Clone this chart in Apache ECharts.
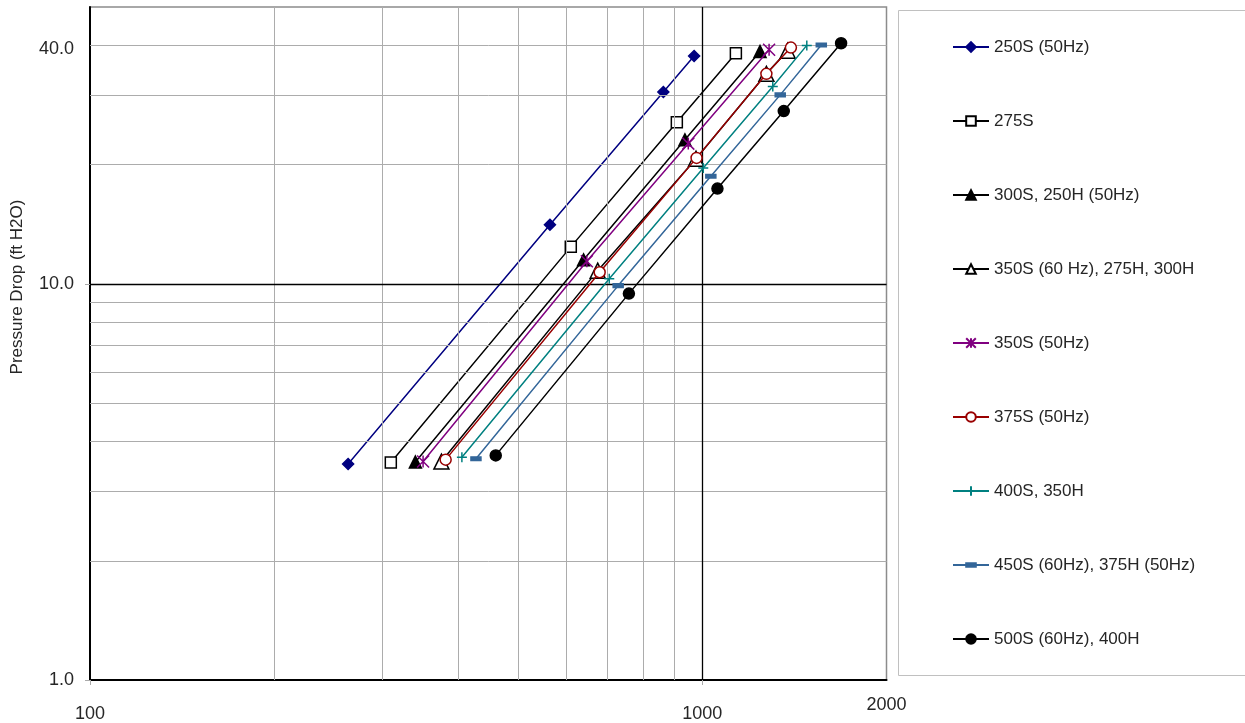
<!DOCTYPE html>
<html>
<head>
<meta charset="utf-8">
<script src="https://cdn.jsdelivr.net/npm/echarts@6/dist/echarts.min.js"></script>
<style>
html,body{margin:0;padding:0;background:#fff;}
#chart{width:1245px;height:723px;}
</style>
</head>
<body>
<div id="chart"></div>
<script>
// ---- data (flow gpm vs pressure drop ft H2O) ----
var seriesNames = [
  '250S (50Hz)',
  '275S',
  '300S, 250H (50Hz)',
  '350S (60 Hz), 275H, 300H',
  '350S (50Hz)',
  '375S (50Hz)',
  '400S, 350H',
  '450S (60Hz), 375H (50Hz)',
  '500S (60Hz), 400H'
];
var flow250S   = [264, 564, 864, 970];
var drop250S   = [3.51, 14.1, 30.5, 37.6];
var flow275S   = [310, 610, 909, 1135];
var drop275S   = [3.54, 12.4, 25.6, 38.2];
var flow300S   = [340, 640, 937, 1243];
var drop300S   = [3.55, 11.5, 23.1, 38.6];
var flow350S60 = [375, 675, 977, 1273, 1379];
var drop350S60 = [3.56, 10.8, 20.7, 33.9, 38.8];
var flow350S50 = [350, 648, 949, 1286];
var drop350S50 = [3.56, 11.4, 22.6, 39.0];
var flow375S   = [381, 680, 979, 1273, 1396];
var drop375S   = [3.60, 10.7, 20.8, 33.9, 39.5];
var flow400S   = [405, 705, 1004, 1304, 1482];
var drop400S   = [3.65, 10.3, 19.6, 31.5, 40.0];
var flow450S   = [427, 729, 1033, 1341, 1565];
var drop450S   = [3.62, 9.9, 18.7, 30.0, 40.1];
var flow500S   = [460, 759, 1059, 1359, 1686];
var drop500S   = [3.69, 9.45, 17.4, 27.3, 40.5];

var xTickLabels = [100, 1000, 2000];
var yTickLabels = [1, 10, 40];
var xMinorGrid = [200, 300, 400, 500, 600, 700, 800, 900];
var yMinorGrid = [2, 3, 4, 5, 6, 7, 8, 9, 20, 30, 40];
var xMajorGrid = [1000];
var yMajorGrid = [10];

function pairs(xs, ys) { return xs.map(function (x, i) { return [x, ys[i]]; }); }

var FONT = 'Liberation Sans, Arial, sans-serif';
var TXT = '#262626';

var styles = [
  {color: '#000080', symbol: 'diamond', size: 11, fill: '#000080'},
  {color: '#000000', symbol: 'rect', size: 11, fill: '#ffffff'},
  {color: '#000000', symbol: 'triangle', size: 12, fill: '#000000'},
  {color: '#000000', symbol: 'triangle', size: 15, fill: '#ffffff'},
  {color: '#800080', symbol: 'path://M0,0L10,10M0,10L10,0M5,0L5,10', size: 12, fill: '#800080'},
  {color: '#990000', symbol: 'circle', size: 11, fill: '#ffffff'},
  {color: '#008080', symbol: 'path://M0,5L10,5M5,0L5,10', size: 10, fill: '#008080'},
  {color: '#336699', symbol: 'path://M0,0M10,10M0,3.2L10,3.2L10,6.8L0,6.8Z', size: 10, fill: '#336699'},
  {color: '#000000', symbol: 'circle', size: 11, fill: '#000000'}
];
var allData = [
  pairs(flow250S, drop250S),
  pairs(flow275S, drop275S),
  pairs(flow300S, drop300S),
  pairs(flow350S60, drop350S60),
  pairs(flow350S50, drop350S50),
  pairs(flow375S, drop375S),
  pairs(flow400S, drop400S),
  pairs(flow450S, drop450S),
  pairs(flow500S, drop500S)
];

var gridLineData = []
  .concat(xMinorGrid.map(function (v) { return {xAxis: v, lineStyle: {color: '#acacac', width: 1, type: 'solid'}}; }))
  .concat(yMinorGrid.map(function (v) { return {yAxis: v, lineStyle: {color: '#acacac', width: 1, type: 'solid'}}; }))
  .concat(xMajorGrid.map(function (v) { return {xAxis: v, lineStyle: {color: '#000000', width: 1.3, type: 'solid'}}; }))
  .concat(yMajorGrid.map(function (v) { return {yAxis: v, lineStyle: {color: '#000000', width: 1.3, type: 'solid'}}; }));

var series = [{
  name: 'grid', type: 'line', data: [], silent: true, z: 1,
  markLine: {
    silent: true, symbol: ['none', 'none'], label: {show: false},
    animation: false, data: gridLineData
  }
}];
seriesNames.forEach(function (name, i) {
  var s = styles[i];
  series.push({
    name: name, type: 'line', z: 3 + i,
    data: allData[i],
    symbol: s.symbol, symbolSize: s.size, showSymbol: true, symbolKeepAspect: true,
    lineStyle: {color: s.color, width: 1.5},
    itemStyle: {color: s.fill, borderColor: s.color, borderWidth: 1.5},
    emphasis: {disabled: true}
  });
});

var chart = echarts.init(document.getElementById('chart'), null, {renderer: 'canvas'});
chart.setOption({
  animation: false,
  backgroundColor: '#ffffff',
  textStyle: {fontFamily: FONT},
  grid: {left: 90, right: 358.5, top: 7, bottom: 40.5, show: true, borderColor: '#8c8c8c', borderWidth: 1.5, backgroundColor: 'transparent'},
  xAxis: {
    type: 'log', logBase: 10, min: 100, max: 2000,
    axisLine: {show: true, onZero: false, lineStyle: {color: '#000', width: 2}},
    axisTick: {show: true, length: 5, customValues: [100, 1000], lineStyle: {color: '#aaaaaa'}},
    splitLine: {show: false},
    axisLabel: {
      customValues: xTickLabels, margin: 20, color: TXT, fontSize: 18, fontFamily: FONT,
      formatter: function (v) { return v === 2000 ? '{up|' + v + '}' : '{n|' + v + '}'; },
      rich: {
        n: {fontSize: 18, lineHeight: 28, color: TXT, fontFamily: FONT},
        up: {fontSize: 18, lineHeight: 10, color: TXT, fontFamily: FONT}
      }
    }
  },
  yAxis: {
    type: 'log', logBase: 10, min: 1, max: 50,
    axisLine: {show: true, onZero: false, lineStyle: {color: '#000', width: 2}},
    axisTick: {show: true, length: 5, customValues: [1, 10], lineStyle: {color: '#aaaaaa'}},
    splitLine: {show: false},
    axisLabel: {
      customValues: yTickLabels, margin: 16, color: TXT, fontSize: 18, fontFamily: FONT,
      formatter: function (v) { return v === 40 ? '{dn|' + Number(v).toFixed(1) + '}' : Number(v).toFixed(1); },
      rich: {
        dn: {fontSize: 18, color: TXT, fontFamily: FONT, padding: [8, 0, 0, 0]}
      }
    }
  },
  legend: {
    orient: 'vertical', left: 952, top: 38, padding: 0,
    itemWidth: 36, itemHeight: 12, itemGap: 56,
    selectedMode: false,
    data: seriesNames,
    textStyle: {fontSize: 17, lineHeight: 18, color: TXT, fontFamily: FONT}
  },
  graphic: [
    {type: 'rect', z: -1, shape: {x: 898.5, y: 10.5, width: 420, height: 665}, style: {fill: '#ffffff', stroke: '#c0c0c0', lineWidth: 1}},
    {type: 'text', x: 17, y: 287, rotation: Math.PI / 2,
     style: {text: 'Pressure Drop (ft H2O)', fontSize: 17, fontFamily: FONT, fill: TXT, align: 'center', verticalAlign: 'middle'}}
  ],
  series: series
});
</script>
</body>
</html>
